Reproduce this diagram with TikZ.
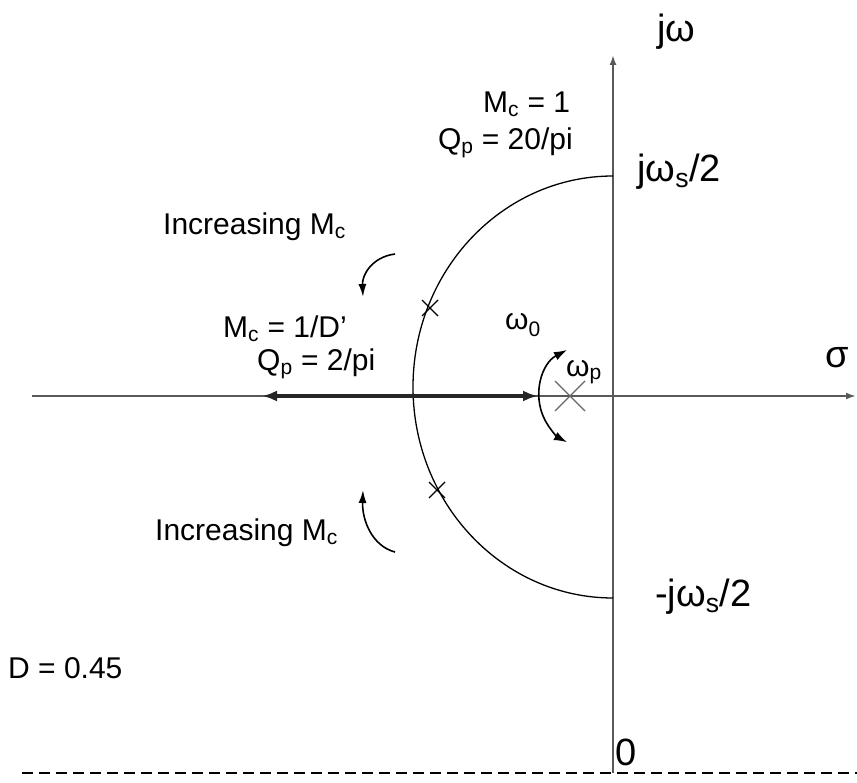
\documentclass[tikz,border=0pt]{standalone}
\usepackage{fontspec}
\setmainfont{Liberation Sans}
\usetikzlibrary{arrows.meta}
\tikzset{
  axis/.style={draw=black!65, line width=2pt, -{Latex[length=10pt,width=7pt]}},
  locus/.style={draw=black, line width=1.3pt},
  thickarr/.style={draw=black!85, line width=3.2pt},
  curvarr/.style={draw=black, line width=1.6pt, -{Latex[length=13pt,width=8pt]}},
  lbl/.style={inner sep=0pt, font=\fontsize{30}{36}\selectfont},
  biglbl/.style={inner sep=0pt, font=\fontsize{38}{44}\selectfont},
  xmark/.style={draw=black, line width=1.2pt},
}
\begin{document}
\begin{tikzpicture}[x=1pt,y=-1pt]
\useasboundingbox (0,0) rectangle (857,783);
\fill[white] (0,0) rectangle (857,783);
% key points
\coordinate (O) at (613,396);
\coordinate (ytop) at (613,55);
\coordinate (ybot) at (613,773);
\coordinate (xleft) at (32,396);
\coordinate (xright) at (856,396);
\coordinate (cc) at (613,387);
\coordinate (ctop) at (613,176);
\coordinate (cleft) at (413,396);
\coordinate (tl) at (262,396);
\coordinate (tr) at (538,396);
\coordinate (pole) at (570,396);
% axes
\draw[axis] (ybot) -- (ytop);
\draw[axis] (xleft) -- (xright);
\draw[black, line width=1.6pt, dash pattern=on 11pt off 6pt] (22,773) -- (857,773);
% locus ellipse arc (left half)
\draw[locus] (ctop) arc[start angle=270, end angle=90, x radius=200, y radius=211];
% thick arrows on real axis
\draw[thickarr, -{Latex[length=15pt,width=11pt]}] (cleft) -- (tl);
\draw[thickarr, -{Latex[length=15pt,width=11pt]}] (cleft) -- (tr);
% marks on locus
\draw[xmark] (422,300) -- (438,316) (422,316) -- (438,300);
\draw[xmark] (429,482) -- (445,498) (429,498) -- (445,482);
% pole cross
\draw[draw=black!60, line width=1.4pt] (555,381) -- (585,411) (555,411) -- (585,381);
% omega_p arc arrow
\draw[draw=black, line width=1.6pt, {Latex[length=13pt,width=9pt]}-{Latex[length=13pt,width=9pt]}]
  (567,350) arc[start angle=242.4, end angle=117.6, radius=52];
% increasing arrows
\draw[curvarr] (395,254) .. controls (372,257) and (362,275) .. (363,297);
\draw[curvarr] (395,552) .. controls (372,546) and (362,520) .. (363,490);
% labels
\node[lbl, anchor=west] (inc1) at (163,227) {Increasing M\textsubscript{c}};
\node[lbl, anchor=west] (inc2) at (155,533) {Increasing M\textsubscript{c}};
\node[lbl, anchor=west] (mc2) at (223,329) {M\textsubscript{c} = 1/D’};
\node[lbl, anchor=west] (qp2) at (257,364) {Q\textsubscript{p} = 2/pi};
\node[lbl, anchor=west] (mc1) at (483,104) {M\textsubscript{c} = 1};
\node[lbl, anchor=east] (qp1) at (573,143) {Q\textsubscript{p} = 20/pi};
\node[biglbl, anchor=west] (jws) at (637,172) {jω\textsubscript{s}/2};
\node[biglbl, anchor=west] (mjws) at (655,597) {-jω\textsubscript{s}/2};
\node[biglbl, anchor=west] (jw) at (657,32) {jω};
\node[biglbl] (sig) at (837,358) {σ};
\node[lbl] (w0) at (523,325) {ω\textsubscript{0}};
\node[lbl, anchor=west] (wp) at (566,372) {ω\textsubscript{p}};
\node[lbl, anchor=west] (D) at (8,668) {D = 0.45};
\node[biglbl, anchor=west] (zero) at (615,752) {0};
\end{tikzpicture}
\end{document}
